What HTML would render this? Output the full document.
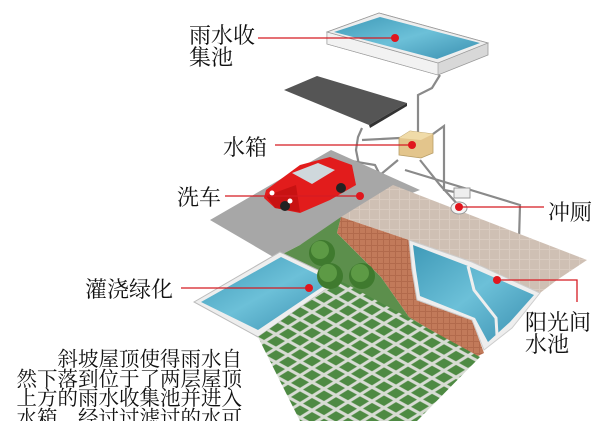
<!DOCTYPE html>
<html><head><meta charset="utf-8"><style>
html,body{margin:0;padding:0;background:#fff;width:616px;height:421px;overflow:hidden}
svg{display:block}
text{font-family:"Noto Serif CJK SC","Liberation Serif",serif;fill:#111}
</style></head><body>
<svg width="616" height="421" viewBox="0 0 616 421" xmlns="http://www.w3.org/2000/svg">
<defs>
<linearGradient id="wat" x1="0" y1="0" x2="1" y2="1"><stop offset="0" stop-color="#3f9ab8"/><stop offset=".5" stop-color="#6cc0d8"/><stop offset="1" stop-color="#3a8fb0"/></linearGradient>
<pattern id="grid" width="12" height="12" patternUnits="userSpaceOnUse" patternTransform="matrix(1,0.55,-1,0.62,0,0)"><rect width="12" height="12" fill="#d8dcd4"/><rect x="1.5" y="1.5" width="9" height="9" fill="#4e8a43"/></pattern>
<pattern id="brick" width="6" height="6" patternUnits="userSpaceOnUse"><rect width="6" height="6" fill="#b26a4c"/><rect x="0" y="0" width="5" height="5" fill="#c27a5a"/></pattern>
<pattern id="tile" width="10" height="10" patternUnits="userSpaceOnUse"><rect width="10" height="10" fill="#d9cbc0"/><rect width="9" height="9" fill="#cfc0b4"/></pattern>
</defs>

<polygon points="327,32 379,13 488,43 488,55 438,75 327,44" fill="#d8d8d8" stroke="#999" stroke-width="0.8"/>
<polygon points="327,32 438,63 438,75 327,44" fill="#f2f2f2" stroke="#999" stroke-width="0.6"/>
<polygon points="327,32 379,13 488,43 438,63" fill="#eee" stroke="#999" stroke-width="0.8"/>
<polygon points="334,32 380,17 480,43 437,59" fill="url(#wat)"/>

<g stroke="#8a8a8a" stroke-width="2.2" fill="none">
<path d="M440,75 L432,88 L418,95 L418,132"/>
<path d="M362,128 L358,137 L356,150 L360,170 L362,200"/>
<path d="M362,140 L400,138"/>
<path d="M433,134 L444,126 L444,190 L470,195"/>
<path d="M398,160 L380,175 L300,205 L270,250 L310,288"/>
<path d="M420,160 L440,185 L460,207"/>
<path d="M405,170 L520,205 L518,275"/>
<path d="M459,215 L470,240 L497,280"/>
<path d="M310,220 L310,288"/>
<path d="M345,160 L375,165 L380,175"/>
</g>

<polygon points="284,90 317,76 407,103 369,125" fill="#555"/>
<polygon points="369,125 407,103 407,106 370,128" fill="#333"/>

<polygon points="210,220 331,150 420,190 349,217 300,245 275,258" fill="#a7a7a7"/>
<polygon points="341,217 393,185 587,260 557,280 540,293 472,262 409,240" fill="url(#tile)"/>
<polygon points="275,258 300,245 341,217 337,233 381,277 409,317 476,357 470,360 339,280 280,252" fill="#5c8f4c"/>
<polygon points="341,217 409,240 412,270 417,300 472,320 484,353 476,357 409,317 381,277 337,233" fill="url(#brick)"/>
<polygon points="409,240 472,262 540,293 512,328 484,350 472,320 417,300 412,270" fill="#eee" stroke="#ccc"/>
<polygon points="413,245 468,266 534,295 510,322 488,342 475,318 420,296 416,270" fill="url(#wat)"/>
<path d="M468,266 L474,290 L496,318 L497,335" stroke="#eee" stroke-width="3" fill="none"/>

<polygon points="194,302 280,252 339,280 258,337" fill="#eee" stroke="#bbb"/>
<polygon points="201,302 281,257 331,281 258,330" fill="url(#wat)"/>
<polygon points="258,337 339,280 480,357 417,421 300,421" fill="url(#grid)"/>

<circle cx="322" cy="253" r="13" fill="#3f7a2e"/><circle cx="320" cy="250" r="9" fill="#5d9a45"/>
<circle cx="330" cy="276" r="13" fill="#3f7a2e"/><circle cx="328" cy="273" r="9" fill="#5d9a45"/>
<circle cx="362" cy="276" r="13" fill="#3f7a2e"/><circle cx="360" cy="273" r="9" fill="#5d9a45"/>

<polygon points="399,138 410,131 433,134 433,153 421,158 399,155" fill="#e3c58c" stroke="#b79d66" stroke-width="0.8"/>
<polygon points="399,138 410,131 433,134 421,140" fill="#f0dba8"/>
<ellipse cx="459" cy="208" rx="8" ry="6" fill="#f4f4f4" stroke="#999"/>
<rect x="454" y="188" width="16" height="10" fill="#eee" stroke="#999"/>

<polygon points="266,190 300,165 330,157 352,165 356,185 330,200 300,213 275,208 264,198" fill="#e21c1c"/>
<polygon points="292,173 318,163 335,170 312,184" fill="#cfd8dc"/>
<polygon points="266,196 296,185 300,212 275,208" fill="#c81212"/>
<circle cx="285" cy="206" r="5" fill="#222"/><circle cx="341" cy="188" r="5" fill="#222"/>
<circle cx="272" cy="193" r="2.5" fill="#fff"/><circle cx="290" cy="201" r="2.5" fill="#fff"/>

<g stroke="#d51b22" stroke-width="1.3" fill="none">
<path d="M258,38 L395,38"/>
<path d="M275,145 L412,145"/>
<path d="M225,196 L360,196"/>
<path d="M544,207 L459,207"/>
<path d="M181,288 L309,288"/>
<path d="M497,280 L577,280 L577,302"/>
</g>
<g fill="#e0161e">
<circle cx="395" cy="38" r="4"/><circle cx="412" cy="145" r="4"/><circle cx="360" cy="196" r="4"/>
<circle cx="459" cy="207" r="4"/><circle cx="309" cy="288" r="4"/><circle cx="497" cy="280" r="4"/>
</g>

<g font-size="22">
<text x="189" y="43">雨水收</text>
<text x="189" y="65">集池</text>
<text x="223" y="155">水箱</text>
<text x="177" y="205">洗车</text>
<text x="548" y="220">冲厕</text>
<text x="85" y="297">灌浇绿化</text>
<text x="525" y="330">阳光间</text>
<text x="525" y="352">水池</text>
</g>
<g font-size="20.5" text-anchor="end">
<text x="242" y="366">斜坡屋顶使得雨水自</text>
<text x="242" y="386">然下落到位于了两层屋顶</text>
<text x="242" y="405">上方的雨水收集池并进入</text>
<text x="242" y="425">水箱，经过过滤过的水可</text>
</g>
</svg>
</body></html>
